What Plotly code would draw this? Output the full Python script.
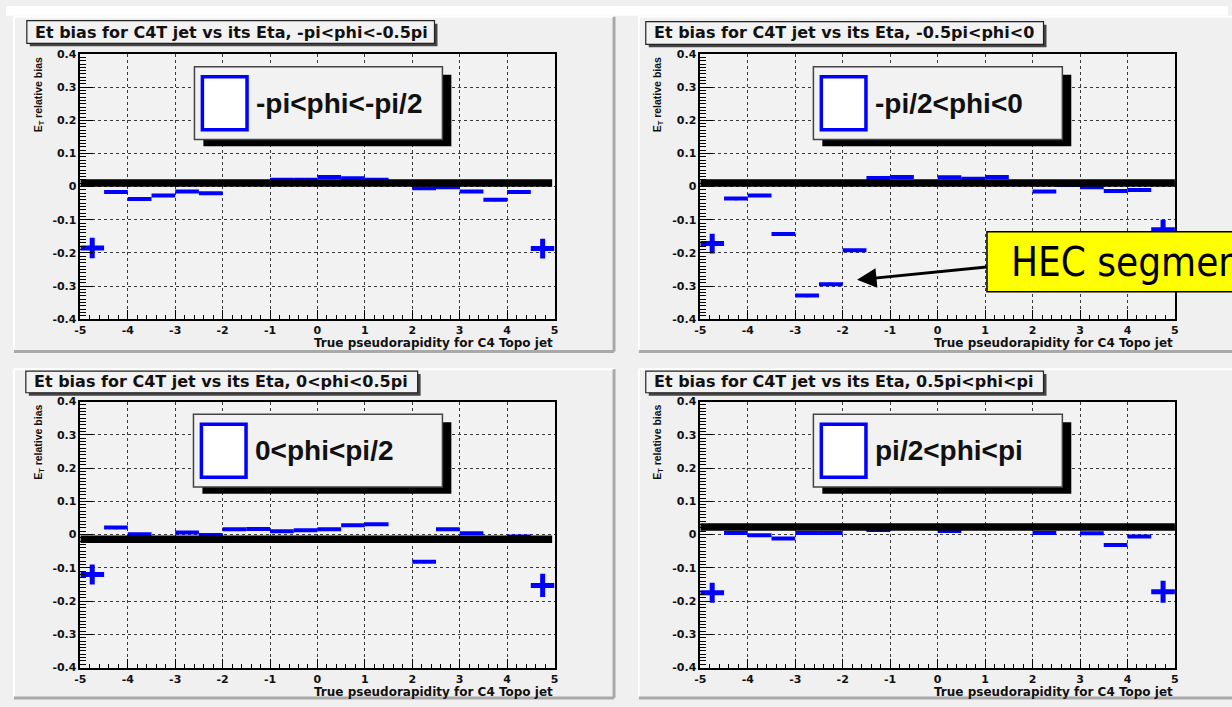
import plotly.graph_objects as go

# ---- data -------------------------------------------------------------
eta_centers = [-4.75, -4.25, -3.75, -3.25, -2.75, -2.25, -1.75, -1.25, -0.75, -0.25,
               0.25, 0.75, 1.25, 1.75, 2.25, 2.75, 3.25, 3.75, 4.25, 4.75]
eta_half_width = 0.25

panel_titles = [
    "Et bias for C4T jet vs its Eta, -pi<phi<-0.5pi",
    "Et bias for C4T jet vs its Eta, -0.5pi<phi<0",
    "Et bias for C4T jet vs its Eta, 0<phi<0.5pi",
    "Et bias for C4T jet vs its Eta, 0.5pi<phi<pi",
]
legend_labels = ["-pi<phi<-pi/2", "-pi/2<phi<0", "0<phi<pi/2", "pi/2<phi<pi"]

bias_phi1 = [-0.185, -0.016, -0.037, -0.027, -0.015, -0.020, 0.010, 0.010, 0.021, 0.021,
             0.029, 0.025, 0.021, 0.010, -0.005, -0.002, -0.015, -0.040, -0.016, -0.187]
err_phi1 = [0.031, 0.004, 0.005, 0.004, 0.003, 0.003, 0.003, 0.003, 0.003, 0.003,
            0.005, 0.004, 0.003, 0.003, 0.004, 0.003, 0.004, 0.004, 0.004, 0.030]

bias_phi2 = [-0.172, -0.036, -0.027, -0.143, -0.329, -0.295, -0.192, 0.026, 0.029, 0.012,
             0.028, 0.024, 0.029, 0.010, -0.015, 0.005, -0.002, -0.013, -0.010, -0.130]
err_phi2 = [0.030, 0.005, 0.003, 0.004, 0.005, 0.005, 0.004, 0.003, 0.003, 0.006,
            0.003, 0.003, 0.003, 0.003, 0.003, 0.003, 0.003, 0.004, 0.005, 0.030]

bias_phi3 = [-0.120, 0.021, 0.001, -0.012, 0.006, -0.001, 0.016, 0.017, 0.010, 0.013,
             0.016, 0.028, 0.031, -0.012, -0.082, 0.016, 0.004, -0.012, -0.006, -0.153]
err_phi3 = [0.030, 0.005, 0.003, 0.004, 0.003, 0.003, 0.003, 0.003, 0.003, 0.003,
            0.004, 0.004, 0.003, 0.003, 0.004, 0.003, 0.004, 0.003, 0.003, 0.035]

bias_phi4 = [-0.175, 0.005, -0.002, -0.012, 0.005, 0.005, 0.020, 0.014, 0.020, 0.020,
             0.011, 0.020, 0.020, 0.020, 0.005, 0.020, 0.004, -0.031, -0.006, -0.172]
err_phi4 = [0.030, 0.004, 0.003, 0.004, 0.003, 0.003, 0.003, 0.003, 0.003, 0.003,
            0.004, 0.003, 0.003, 0.003, 0.003, 0.003, 0.004, 0.003, 0.003, 0.033]

# constant fit level drawn across each histogram, and where it stops in eta
fit_levels = [0.011, 0.011, -0.014, 0.023]
fit_ends = [4.95, 5.0, 4.95, 5.0]

x_tick_vals = [-5, -4, -3, -2, -1, 0, 1, 2, 3, 4, 5]
x_tick_text = ["-5", "-4", "-3", "-2", "-1", "0", "1", "2", "3", "4", "5"]
y_tick_vals = [-0.4, -0.3, -0.2, -0.1, 0.0, 0.1, 0.2, 0.3, 0.4]
y_tick_text = ["-0.4", "-0.3", "-0.2", "-0.1", "0", "0.1", "0.2", "0.3", "0.4"]

x_title = "True pseudorapidity for C4 Topo jet"
y_title = "E<sub>T</sub> relative bias"
callout_text = "HEC segment"

all_bias = [bias_phi1, bias_phi2, bias_phi3, bias_phi4]
all_err = [err_phi1, err_phi2, err_phi3, err_phi4]

# ---- page geometry (pixels) ----------------------------------------
W, H = 1232, 707


def fx(p):
    return p / W


def fy(p):
    return 1 - p / H


# frame of each pad, plot area of each pad, title box, legend box
pads = [
    dict(frame=(8, 11, 613, 352), plot=(75, 49, 553, 319),
         title=(21, 15, 432, 38), legend=(190, 62, 440, 136), ytitle_x=33),
    dict(frame=(638, 11, 1240, 352), plot=(700, 49, 1178.5, 319),
         title=(645, 16, 1046, 39), legend=(814, 62, 1065, 136), ytitle_x=657),
    dict(frame=(8, 370, 613, 705), plot=(75, 403, 553, 674),
         title=(20, 372, 415, 394), legend=(189, 416, 440, 490), ytitle_x=33),
    dict(frame=(638, 370, 1240, 705), plot=(700, 403, 1178.5, 674),
         title=(645, 372, 1046, 394), legend=(814, 416, 1065, 490), ytitle_x=657),
]

BLUE = "#0000ff"
PANEL_BG = "#f2f2f2"
FONT = "Liberation Sans"
FONT_WIDE = "DejaVu Sans"

fig = go.Figure()
shapes = []
annotations = []

for i, pad in enumerate(pads):
    n = "" if i == 0 else str(i + 1)
    xa, ya = "x" + n, "y" + n
    bias, err = all_bias[i], all_err[i]

    # interior bins
    fig.add_trace(go.Scatter(
        x=eta_centers[1:-1], y=bias[1:-1], mode="markers",
        marker=dict(size=2, color=BLUE),
        error_x=dict(type="constant", value=eta_half_width, thickness=4, width=0, color=BLUE),
        error_y=dict(type="data", array=err[1:-1], thickness=3, width=0, color=BLUE),
        xaxis=xa, yaxis=ya, showlegend=False, cliponaxis=False))
    # outermost bins (larger statistical error)
    fig.add_trace(go.Scatter(
        x=[eta_centers[0], eta_centers[-1]], y=[bias[0], bias[-1]], mode="markers",
        marker=dict(size=2, color=BLUE),
        error_x=dict(type="constant", value=eta_half_width, thickness=5, width=0, color=BLUE),
        error_y=dict(type="data", array=[err[0], err[-1]], thickness=5, width=0, color=BLUE),
        xaxis=xa, yaxis=ya, showlegend=False, cliponaxis=False))
    # fitted constant
    fig.add_trace(go.Scatter(
        x=[-5, fit_ends[i]], y=[fit_levels[i], fit_levels[i]], mode="lines",
        line=dict(color="black", width=7.5),
        xaxis=xa, yaxis=ya, showlegend=False, cliponaxis=False))

    px0, py0, px1, py1 = pad["plot"]
    axis_common = dict(showline=True, mirror=True, linecolor="black", linewidth=1.5,
                       showgrid=True, gridcolor="#3a3a3a", griddash="dot", gridwidth=1,
                       zeroline=False, ticks="inside", tickcolor="black", tickwidth=1,
                       tickfont=dict(family=FONT_WIDE, size=11, color="#111", weight="bold"))
    fig.update_layout({
        "xaxis" + n: dict(domain=[fx(px0), fx(px1)], range=[-5, 5], anchor=ya,
                          tickmode="array", tickvals=x_tick_vals, ticktext=x_tick_text,
                          ticklen=9, minor=dict(dtick=0.2, ticklen=4, ticks="inside",
                                                tickcolor="black", showgrid=False),
                          **axis_common),
        "yaxis" + n: dict(domain=[fy(py1), fy(py0)], range=[-0.4, 0.4], anchor=xa,
                          tickmode="array", tickvals=y_tick_vals, ticktext=y_tick_text,
                          ticklen=13, minor=dict(dtick=0.01, ticklen=6, ticks="inside",
                                                 tickcolor="black", showgrid=False),
                          **axis_common),
    })

    # pad bevel
    fx0, fy0, fx1, fy1 = pad["frame"]
    shapes += [
        dict(type="line", xref="paper", yref="paper", x0=fx(fx0), x1=fx(fx1), y0=fy(fy0), y1=fy(fy0),
             line=dict(color="white", width=2), layer="below"),
        dict(type="line", xref="paper", yref="paper", x0=fx(fx0), x1=fx(fx0), y0=fy(fy0), y1=fy(fy1),
             line=dict(color="white", width=2), layer="below"),
        dict(type="line", xref="paper", yref="paper", x0=fx(fx0), x1=fx(fx1), y0=fy(fy1), y1=fy(fy1),
             line=dict(color="#a9a9a9", width=3), layer="below"),
        dict(type="line", xref="paper", yref="paper", x0=fx(fx1), x1=fx(fx1), y0=fy(fy0), y1=fy(fy1),
             line=dict(color="#a9a9a9", width=3), layer="below"),
    ]

    # title box with small shadow
    tx0, ty0, tx1, ty1 = pad["title"]
    shapes += [
        dict(type="rect", xref="paper", yref="paper", x0=fx(tx0 + 3), x1=fx(tx1 + 3),
             y0=fy(ty0 + 3), y1=fy(ty1 + 3), fillcolor="#444", line=dict(width=0), layer="above"),
        dict(type="rect", xref="paper", yref="paper", x0=fx(tx0), x1=fx(tx1),
             y0=fy(ty0), y1=fy(ty1), fillcolor=PANEL_BG, line=dict(color="#222", width=1.2),
             layer="above"),
    ]
    annotations.append(dict(xref="paper", yref="paper", x=fx(tx0 + 6), y=fy((ty0 + ty1) / 2),
                            xanchor="left", yanchor="middle", showarrow=False,
                            text=panel_titles[i],
                            font=dict(family=FONT_WIDE, size=16, color="#111", weight="bold")))

    # legend box with heavy black shadow
    lx0, ly0, lx1, ly1 = pad["legend"]
    shapes += [
        dict(type="rect", xref="paper", yref="paper", x0=fx(lx0 + 9), x1=fx(lx1 + 9),
             y0=fy(ly0 + 8), y1=fy(ly1 + 7), fillcolor="black", line=dict(width=0), layer="above"),
        dict(type="rect", xref="paper", yref="paper", x0=fx(lx0), x1=fx(lx1),
             y0=fy(ly0), y1=fy(ly1), fillcolor=PANEL_BG, line=dict(color="#444", width=1.5),
             layer="above"),
        dict(type="rect", xref="paper", yref="paper", x0=fx(lx0 + 8), x1=fx(lx0 + 53),
             y0=fy(ly0 + 10), y1=fy(ly1 - 10), fillcolor="white", line=dict(color=BLUE, width=3.5),
             layer="above"),
    ]
    annotations.append(dict(xref="paper", yref="paper", x=fx(lx0 + 60), y=fy((ly0 + ly1) / 2),
                            xanchor="left", yanchor="middle", showarrow=False,
                            text=legend_labels[i],
                            font=dict(family=FONT, size=28, color="#111", weight="bold")))

    # axis titles
    annotations.append(dict(xref="paper", yref="paper", x=fx(px1), y=fy(py1 + 24.5),
                            xanchor="right", yanchor="middle", showarrow=False, text=x_title,
                            font=dict(family=FONT_WIDE, size=12, color="#111", weight="bold")))
    annotations.append(dict(xref="paper", yref="paper", x=fx(pad["ytitle_x"]), y=fy(py0 + 1),
                            xanchor="center", yanchor="top", showarrow=False, text=y_title,
                            textangle=-90,
                            font=dict(family=FONT, size=10.5, color="#111", weight="bold")))

# white strip above the pads
shapes.insert(0, dict(type="rect", xref="paper", yref="paper", x0=0, x1=1, y0=fy(10), y1=1,
                      fillcolor="white", line=dict(width=0), layer="below"))

# callout pointing at the low bins of the -pi/2<phi<0 pad
shapes.append(dict(type="rect", xref="paper", yref="paper", x0=fx(989), x1=fx(1260),
                   y0=fy(230), y1=fy(291), fillcolor="#ffff00",
                   line=dict(color="black", width=1.5), layer="above"))
annotations.append(dict(xref="paper", yref="paper", x=fx(1011), y=fy(261),
                        xanchor="left", yanchor="middle", showarrow=False, text=callout_text,
                        font=dict(family="DejaVu Sans Condensed, DejaVu Sans", size=40,
                                  color="black")))
annotations.append(dict(xref="paper", yref="paper", x=fx(858), y=fy(279), text="",
                        showarrow=True, ax=131, ay=-13, arrowhead=2, arrowsize=1.3,
                        arrowwidth=3, arrowcolor="black"))

fig.update_layout(
    width=W, height=H, margin=dict(l=0, r=0, t=0, b=0),
    paper_bgcolor="#f0f0f0", plot_bgcolor=PANEL_BG,
    shapes=shapes, annotations=annotations, showlegend=False,
)

fig.write_html("out.html")
